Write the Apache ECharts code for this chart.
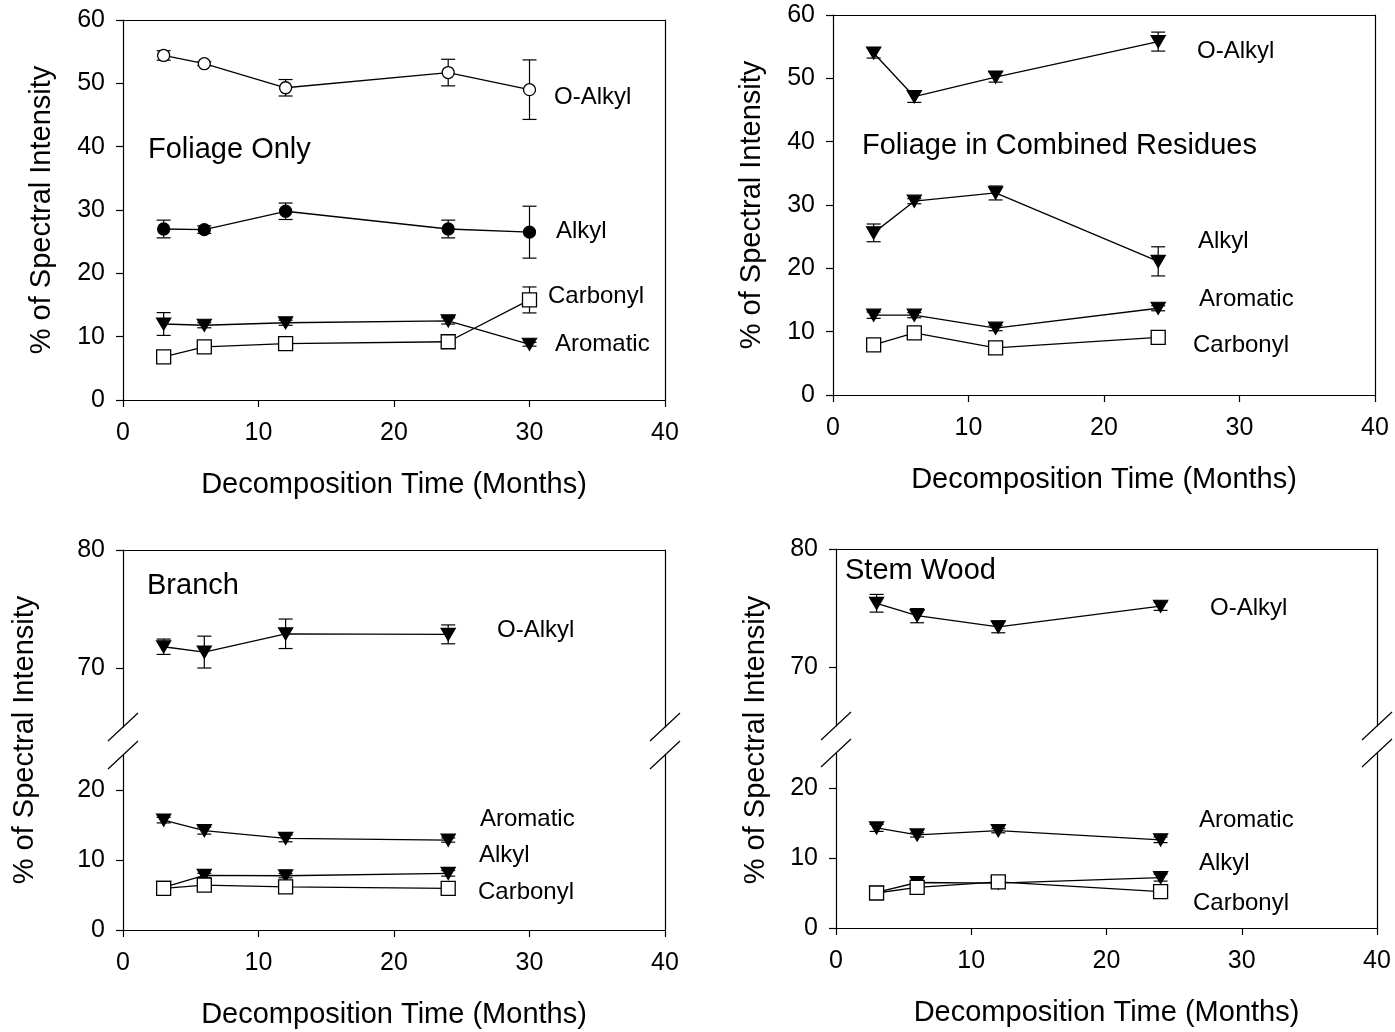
<!DOCTYPE html>
<html>
<head>
<meta charset="utf-8">
<script src="https://cdn.jsdelivr.net/npm/echarts@6/dist/echarts.min.js"></script>
<style>
  html, body { margin: 0; padding: 0; background: #fff; }
  #main { width: 1395px; height: 1032px; }
</style>
</head>
<body>
<div id="main"></div>
<script>
// 数据
const months5 = [3, 6, 12, 24, 30];
const months4 = [3, 6, 12, 24];

// Foliage Only
const foliageOAlkyl = [54.4, 53.1, 49.3, 51.7, 49.0];
const foliageOAlkylErr = [0.75, 0.3, 1.3, 2.1, 4.7];
const foliageAlkyl = [27.0, 26.9, 29.8, 27.0, 26.5];
const foliageAlkylErr = [1.4, 0.6, 1.3, 1.4, 4.1];
const foliageAromatic = [12.0, 11.8, 12.2, 12.5, 8.8];
const foliageAromaticErr = [1.8, 0.4, 0.4, 0.5, 0.3];
const foliageCarbonyl = [6.8, 8.4, 8.9, 9.2, 15.8];
const foliageCarbonylErr = [0.3, 0.3, 0.3, 0.3, 2.05];

// Foliage in Combined Residues
const combOAlkyl = [54.0, 47.1, 50.2, 55.8];
const combOAlkylErr = [0.8, 0.9, 0.8, 1.5];
const combAlkyl = [25.6, 30.6, 31.9, 21.1];
const combAlkylErr = [1.4, 0.4, 1.1, 2.3];
const combAromatic = [12.6, 12.6, 10.55, 13.7];
const combAromaticErr = [0.5, 0.4, 0.4, 0.4];
const combCarbonyl = [7.9, 9.8, 7.45, 9.1];
const combCarbonylErr = [0.3, 0.3, 0.3, 0.3];

// Branch
const branchOAlkyl = [71.8, 71.35, 72.9, 72.85];
const branchOAlkylErr = [0.65, 1.35, 1.25, 0.8];
const branchAromatic = [15.7, 14.2, 13.1, 12.85];
const branchAromaticErr = [0.4, 0.5, 0.5, 0.3];
const branchAlkyl = [6.1, 7.8, 7.75, 8.1];
const branchAlkylErr = [0.3, 0.3, 0.3, 0.4];
const branchCarbonyl = [5.95, 6.4, 6.15, 5.95];
const branchCarbonylErr = [0.3, 0.3, 0.3, 0.3];

// Stem Wood
const stemOAlkyl = [75.4, 74.35, 73.4, 75.15];
const stemOAlkylErr = [0.75, 0.6, 0.5, 0.35];
const stemAromatic = [14.3, 13.3, 13.9, 12.6];
const stemAromaticErr = [0.5, 0.3, 0.3, 0.4];
const stemAlkyl = [5.1, 6.5, 6.4, 7.2];
const stemAlkylErr = [0.3, 0.3, 0.3, 0.5];
const stemCarbonyl = [5.0, 5.8, 6.6, 5.2];
const stemCarbonylErr = [0.3, 0.3, 0.3, 0.3];

const FONT = 'Liberation Sans, Arial, sans-serif';

const grids = [
  { left: 123, top: 20, width: 542, height: 380 },  // 0 Foliage Only
  { left: 833, top: 15, width: 542, height: 380 },  // 1 Combined
  { left: 123, top: 550, width: 542, height: 177 }, // 2 Branch upper
  { left: 123, top: 755, width: 542, height: 175 }, // 3 Branch lower
  { left: 836, top: 549, width: 541, height: 177 }, // 4 Stem upper
  { left: 836, top: 753, width: 541, height: 175 }  // 5 Stem lower
];

// 每个grid的y范围/刻度, 以及是否显示底部/顶部线
const gridCfg = [
  { min: 0, max: 60, ticks: [0, 10, 20, 30, 40, 50, 60], bottom: true, top: true },
  { min: 0, max: 60, ticks: [0, 10, 20, 30, 40, 50, 60], bottom: true, top: true },
  { min: 65, max: 80, ticks: [70, 80], bottom: false, top: true },
  { min: 0, max: 25, ticks: [0, 10, 20], bottom: true, top: false },
  { min: 65, max: 80, ticks: [70, 80], bottom: false, top: true },
  { min: 0, max: 25, ticks: [0, 10, 20], bottom: true, top: false }
];

const axisLineStyle = { color: '#000', width: 1.2 };
const xAxis = [];
const yAxis = [];
gridCfg.forEach(function (c, g) {
  xAxis.push({
    type: 'value', gridIndex: g, min: 0, max: 40, interval: 10, position: 'bottom',
    show: c.bottom,
    axisLine: { show: true, onZero: false, lineStyle: axisLineStyle },
    axisTick: { show: true, inside: false, length: 7, lineStyle: axisLineStyle },
    axisLabel: { show: true, color: '#000', fontSize: 25, fontFamily: FONT, margin: 21 },
    splitLine: { show: false },
    name: 'Decomposition Time (Months)', nameLocation: 'middle', nameGap: 70,
    nameTextStyle: { color: '#000', fontSize: 29, fontFamily: FONT }
  });
  xAxis.push({
    type: 'value', gridIndex: g, min: 0, max: 40, position: 'top', show: c.top,
    axisLine: { show: true, onZero: false, lineStyle: axisLineStyle },
    axisTick: { show: false }, axisLabel: { show: false }, splitLine: { show: false }
  });
  yAxis.push({
    type: 'value', gridIndex: g, min: c.min, max: c.max, position: 'left',
    axisLine: { show: true, onZero: false, lineStyle: axisLineStyle },
    axisTick: { show: true, inside: false, length: 7, customValues: c.ticks, lineStyle: axisLineStyle },
    axisLabel: { show: true, color: '#000', fontSize: 25, fontFamily: FONT, margin: 18, customValues: c.ticks },
    splitLine: { show: false }
  });
  yAxis.push({
    type: 'value', gridIndex: g, min: c.min, max: c.max, position: 'right',
    axisLine: { show: true, onZero: false, lineStyle: axisLineStyle },
    axisTick: { show: false }, axisLabel: { show: false }, splitLine: { show: false }
  });
});

const markerStyles = {
  openCircle: { symbol: 'circle', symbolSize: 12, fill: '#fff' },
  filledCircle: { symbol: 'circle', symbolSize: 12, fill: '#000' },
  openSquare: { symbol: 'rect', symbolSize: 14, fill: '#fff' },
  triangleDown: { symbol: 'triangle', symbolSize: [14, 12], fill: '#000', rotate: 180 }
};

const series = [];
function addSeries(g, xs, ys, errs, marker) {
  const m = markerStyles[marker];
  const pts = xs.map(function (x, i) { return [x, ys[i]]; });
  const errPts = xs.map(function (x, i) { return [x, ys[i], errs[i]]; });
  // 误差线
  series.push({
    type: 'custom', xAxisIndex: 2 * g, yAxisIndex: 2 * g, z: 1,
    data: errPts,
    renderItem: function (params, api) {
      const x = api.value(0), y = api.value(1), e = api.value(2);
      const p1 = api.coord([x, y + e]);
      const p2 = api.coord([x, y - e]);
      const st = { stroke: '#000', lineWidth: 1.2 };
      return {
        type: 'group',
        children: [
          { type: 'line', shape: { x1: p1[0], y1: p1[1], x2: p2[0], y2: p2[1] }, style: st },
          { type: 'line', shape: { x1: p1[0] - 7, y1: p1[1], x2: p1[0] + 7, y2: p1[1] }, style: st },
          { type: 'line', shape: { x1: p2[0] - 7, y1: p2[1], x2: p2[0] + 7, y2: p2[1] }, style: st }
        ]
      };
    }
  });
  series.push({
    type: 'line', xAxisIndex: 2 * g, yAxisIndex: 2 * g, z: 3,
    data: pts,
    symbol: m.symbol, symbolSize: m.symbolSize, symbolRotate: m.rotate || 0,
    showAllSymbol: true,
    lineStyle: { color: '#000', width: 1.3 },
    itemStyle: { color: m.fill, borderColor: '#000', borderWidth: 1.3 }
  });
}

addSeries(0, months5, foliageOAlkyl, foliageOAlkylErr, 'openCircle');
addSeries(0, months5, foliageAlkyl, foliageAlkylErr, 'filledCircle');
addSeries(0, months5, foliageAromatic, foliageAromaticErr, 'triangleDown');
addSeries(0, months5, foliageCarbonyl, foliageCarbonylErr, 'openSquare');

addSeries(1, months4, combOAlkyl, combOAlkylErr, 'triangleDown');
addSeries(1, months4, combAlkyl, combAlkylErr, 'triangleDown');
addSeries(1, months4, combAromatic, combAromaticErr, 'triangleDown');
addSeries(1, months4, combCarbonyl, combCarbonylErr, 'openSquare');

addSeries(2, months4, branchOAlkyl, branchOAlkylErr, 'triangleDown');
addSeries(3, months4, branchAromatic, branchAromaticErr, 'triangleDown');
addSeries(3, months4, branchAlkyl, branchAlkylErr, 'triangleDown');
addSeries(3, months4, branchCarbonyl, branchCarbonylErr, 'openSquare');

addSeries(4, months4, stemOAlkyl, stemOAlkylErr, 'triangleDown');
addSeries(5, months4, stemAromatic, stemAromaticErr, 'triangleDown');
addSeries(5, months4, stemAlkyl, stemAlkylErr, 'triangleDown');
addSeries(5, months4, stemCarbonyl, stemCarbonylErr, 'openSquare');

// 文字标注
function label(text, x, y, size) {
  return {
    type: 'text', x: x, y: y, z: 10,
    style: { text: text, fill: '#000', font: (size || 24) + 'px ' + FONT, verticalAlign: 'middle', align: 'left' }
  };
}
function yTitle(x, y) {
  return {
    type: 'text', x: x, y: y, rotation: Math.PI / 2, z: 10,
    style: { text: '% of Spectral Intensity', fill: '#000', font: '29px ' + FONT, align: 'center', verticalAlign: 'middle' }
  };
}
// 断轴标记
function breakMark(ax, ay) {
  const st = { stroke: '#000', lineWidth: 1.2 };
  return { type: 'line', z: 10, shape: { x1: ax - 15, y1: ay + 14, x2: ax + 15, y2: ay - 14 }, style: st };
}

const graphic = [
  label('Foliage Only', 148, 150, 29),
  label('O-Alkyl', 554, 97), label('Alkyl', 556, 231), label('Carbonyl', 548, 296), label('Aromatic', 555, 344),
  label('Foliage in Combined Residues', 862, 146, 29),
  label('O-Alkyl', 1197, 51), label('Alkyl', 1198, 241), label('Aromatic', 1199, 299), label('Carbonyl', 1193, 345),
  label('Branch', 147, 586, 29),
  label('O-Alkyl', 497, 630), label('Aromatic', 480, 819), label('Alkyl', 479, 855), label('Carbonyl', 478, 892),
  label('Stem Wood', 845, 571, 29),
  label('O-Alkyl', 1210, 608), label('Aromatic', 1199, 820), label('Alkyl', 1199, 863), label('Carbonyl', 1193, 903),
  yTitle(42, 210), yTitle(752, 205), yTitle(25, 740), yTitle(756, 740),
  breakMark(123, 727), breakMark(123, 755), breakMark(665, 727), breakMark(665, 755),
  breakMark(836, 726), breakMark(836, 753), breakMark(1377, 726), breakMark(1377, 753)
];

const myChart = echarts.init(document.getElementById('main'));
myChart.setOption({
  animation: false,
  backgroundColor: '#fff',
  grid: grids,
  xAxis: xAxis,
  yAxis: yAxis,
  series: series,
  graphic: graphic
});
</script>
</body>
</html>
